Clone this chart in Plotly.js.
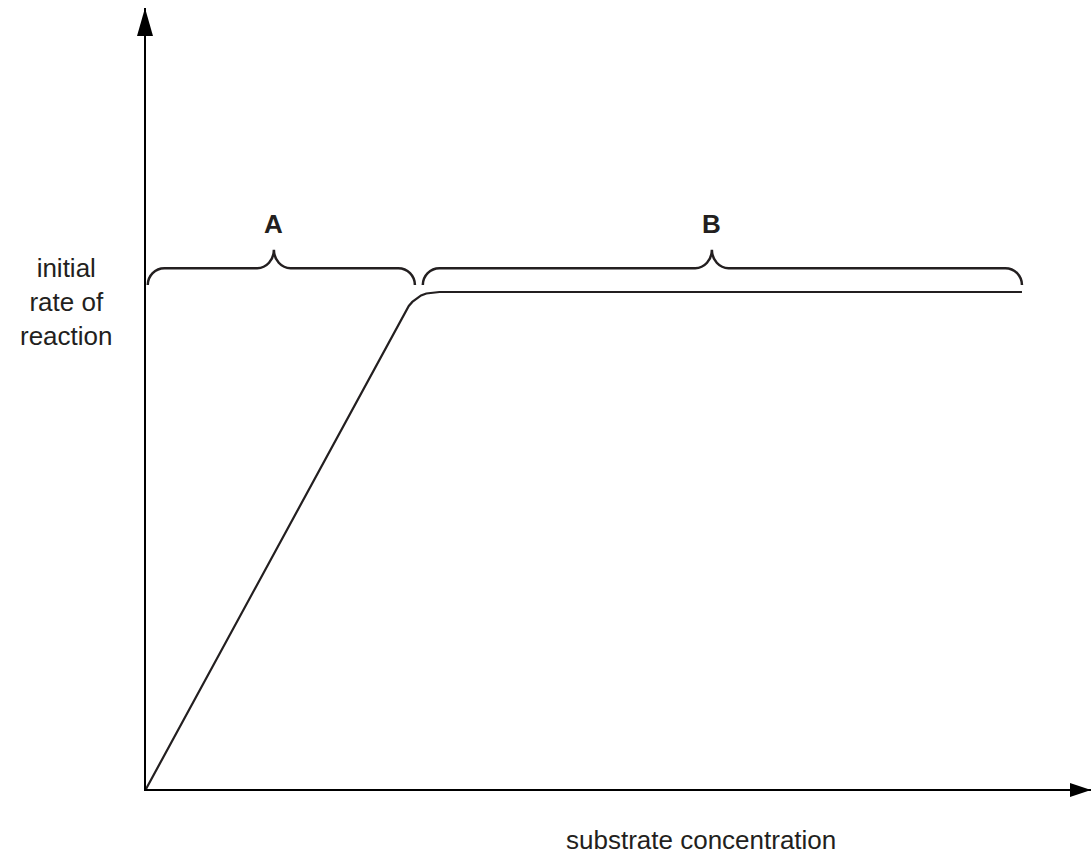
<!DOCTYPE html>
<html>
<head>
<meta charset="utf-8">
<script src="https://cdn.plot.ly/plotly-3.0.1.min.js"></script>
<style>html,body{margin:0;padding:0;background:#fff;}#chart{width:1092px;height:855px;}</style>
</head>
<body>
<div id="chart"></div>
<script>
// ---- data (arbitrary units) ----
const substrate = [0, 2.96, 3.00, 3.04, 3.09, 3.14, 3.20, 3.27, 3.35, 10];
const rate      = [0, 9.61, 9.72, 9.80, 9.87, 9.93, 9.97, 9.99, 10.0, 10.0];

const regionLabels = ['A', 'B'];
const regionStart  = [0.02, 3.16];
const regionEnd    = [3.07, 10.0];
const regionTip    = [1.46, 6.46];

const braceEndY = 10.14;
const braceBarY = 10.48;
const braceTipY = 10.85;
const labelY    = 11.36;

const xTitle = 'substrate concentration';
const yTitle = 'initial<br>rate of<br>reaction';

// ---- style ----
const ink = '#231f20';
const font = 'Liberation Sans, Arial, Helvetica, sans-serif';
const rx = 0.19;   // brace curl radius (x units)
const k = 0.552;

function bracePath(x0, x1, xt) {
  const yE = braceEndY, yB = braceBarY, yT = braceTipY;
  const dE = yB - yE, dT = yT - yB;
  return 'M' + x0 + ',' + yE +
    ' C' + x0 + ',' + (yE + k * dE) + ' ' + (x0 + rx * (1 - k)) + ',' + yB + ' ' + (x0 + rx) + ',' + yB +
    ' L' + (xt - rx) + ',' + yB +
    ' C' + (xt - rx + k * rx) + ',' + yB + ' ' + xt + ',' + (yT - k * dT) + ' ' + xt + ',' + yT +
    ' C' + xt + ',' + (yT - k * dT) + ' ' + (xt + rx - k * rx) + ',' + yB + ' ' + (xt + rx) + ',' + yB +
    ' L' + (x1 - rx) + ',' + yB +
    ' C' + (x1 - rx + k * rx) + ',' + yB + ' ' + x1 + ',' + (yE + k * dE) + ' ' + x1 + ',' + yE;
}

const shapes = regionLabels.map((lab, i) => ({
  type: 'path', xref: 'x', yref: 'y',
  path: bracePath(regionStart[i], regionEnd[i], regionTip[i]),
  line: {color: ink, width: 2.5}
}));

// arrowheads (paper coords)
shapes.push({type: 'path', xref: 'paper', yref: 'paper',
  path: 'M-0.0095,0.9641 L-0.00106,1.0 L0.0074,0.9641 Z',
  fillcolor: '#000', line: {color: '#000', width: 0}});
shapes.push({type: 'path', xref: 'paper', yref: 'paper',
  path: 'M0.9778,-0.0102 L1.0,-0.00128 L0.9778,0.0077 Z',
  fillcolor: '#000', line: {color: '#000', width: 0}});

const annotations = regionLabels.map((lab, i) => ({
  x: regionTip[i], y: labelY, xref: 'x', yref: 'y',
  xanchor: 'center', yanchor: 'middle',
  text: '<b>' + lab + '</b>', showarrow: false,
  font: {family: font, size: 26, color: ink}
}));
annotations.push({
  x: -0.0836, y: 0.6235, xref: 'paper', yref: 'paper',
  xanchor: 'center', yanchor: 'middle',
  text: yTitle, showarrow: false, align: 'center',
  font: {family: font, size: 26, color: ink}
});
annotations.push({
  x: 0.5873, y: -0.065, xref: 'paper', yref: 'paper',
  xanchor: 'center', yanchor: 'middle',
  text: xTitle, showarrow: false,
  font: {family: font, size: 26, color: ink}
});

const trace = {
  x: substrate, y: rate, type: 'scatter', mode: 'lines',
  line: {color: ink, width: 2.2, shape: 'linear'},
  hoverinfo: 'skip', showlegend: false
};

const axisCommon = {
  showline: true, linecolor: '#000', linewidth: 2,
  showgrid: false, zeroline: false, ticks: '', showticklabels: false,
  fixedrange: true
};

const layout = {
  width: 1092, height: 855,
  margin: {l: 146, r: 1, t: 8, b: 66},
  paper_bgcolor: '#fff', plot_bgcolor: '#fff',
  xaxis: Object.assign({range: [0, 10.788]}, axisCommon),
  yaxis: Object.assign({range: [0, 15.714]}, axisCommon),
  shapes: shapes,
  annotations: annotations,
  showlegend: false
};

Plotly.newPlot('chart', [trace], layout, {staticPlot: true, displayModeBar: false});
</script>
</body>
</html>
